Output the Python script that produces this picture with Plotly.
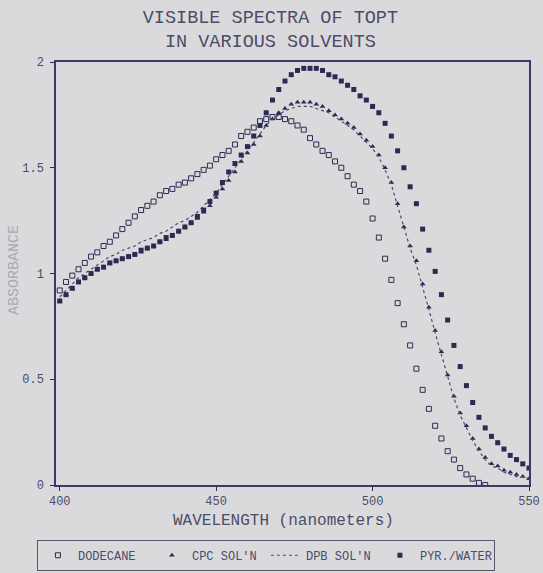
import plotly.graph_objects as go

wavelength = list(range(400, 552, 2))

dodecane = [0.92, 0.96, 0.99, 1.02, 1.05, 1.08, 1.10, 1.13, 1.15, 1.18,
            1.21, 1.24, 1.27, 1.30, 1.32, 1.34, 1.37, 1.39, 1.40, 1.42,
            1.43, 1.45, 1.47, 1.49, 1.51, 1.54, 1.56, 1.58, 1.61, 1.65,
            1.67, 1.69, 1.72, 1.73, 1.74, 1.74, 1.73, 1.72, 1.70, 1.68,
            1.64, 1.61, 1.58, 1.56, 1.53, 1.50, 1.46, 1.42, 1.39, 1.34,
            1.26, 1.17, 1.07, 0.97, 0.86, 0.76, 0.66, 0.55, 0.45, 0.36,
            0.28, 0.22, 0.16, 0.12, 0.08, 0.05, 0.03, 0.01, 0.00]

cpc = [0.87, 0.90, 0.93, 0.96, 0.98, 1.00, 1.02, 1.03, 1.05, 1.06,
       1.07, 1.08, 1.09, 1.10, 1.12, 1.13, 1.15, 1.16, 1.18, 1.20,
       1.22, 1.24, 1.26, 1.29, 1.32, 1.36, 1.40, 1.44, 1.48, 1.53,
       1.57, 1.61, 1.65, 1.70, 1.73, 1.76, 1.78, 1.80, 1.81, 1.81,
       1.81, 1.80, 1.79, 1.77, 1.75, 1.73, 1.71, 1.69, 1.66, 1.63,
       1.60, 1.56, 1.50, 1.43, 1.33, 1.22, 1.13, 1.06, 0.95, 0.84,
       0.73, 0.63, 0.52, 0.42, 0.34, 0.28, 0.22, 0.17, 0.13, 0.10,
       0.09, 0.07, 0.06, 0.05, 0.04, 0.03]

dpb = [0.89, 0.92, 0.95, 0.98, 1.00, 1.02, 1.04, 1.06, 1.08, 1.09,
       1.11, 1.12, 1.13, 1.15, 1.16, 1.17, 1.19, 1.20, 1.22, 1.24,
       1.25, 1.27, 1.29, 1.32, 1.35, 1.38, 1.42, 1.46, 1.50, 1.54,
       1.58, 1.62, 1.66, 1.70, 1.73, 1.75, 1.77, 1.78, 1.79, 1.79,
       1.79, 1.78, 1.77, 1.76, 1.74, 1.72, 1.70, 1.68, 1.65, 1.62,
       1.59, 1.55, 1.49, 1.42, 1.32, 1.21, 1.12, 1.04, 0.94, 0.83,
       0.72, 0.62, 0.51, 0.41, 0.33, 0.27, 0.21, 0.16, 0.12, 0.09,
       0.08, 0.06, 0.05, 0.04, 0.04, 0.03]

pyr_water = [0.87, 0.90, 0.93, 0.96, 0.98, 1.00, 1.02, 1.03, 1.05, 1.06,
             1.07, 1.08, 1.09, 1.11, 1.12, 1.13, 1.15, 1.17, 1.18, 1.20,
             1.22, 1.24, 1.27, 1.30, 1.34, 1.38, 1.43, 1.48, 1.52, 1.56,
             1.60, 1.65, 1.70, 1.76, 1.82, 1.87, 1.91, 1.94, 1.96, 1.97,
             1.97, 1.97, 1.96, 1.94, 1.93, 1.91, 1.89, 1.87, 1.84, 1.82,
             1.79, 1.76, 1.71, 1.65, 1.58, 1.50, 1.41, 1.33, 1.21, 1.11,
             1.01, 0.90, 0.78, 0.66, 0.56, 0.47, 0.39, 0.32, 0.27, 0.23,
             0.20, 0.17, 0.14, 0.12, 0.10, 0.08]

x_ticks = [400, 450, 500, 550]
y_ticks = [0, 0.5, 1, 1.5, 2]
y_tick_text = ["0", "0.5", "1", "1.5", "2"]

INK = "#2b2b52"
TEXT = "#4c4c68"
BG = "#dadadd"
FONT = "Liberation Mono, Courier New, monospace"

fig = go.Figure()
fig.add_trace(go.Scatter(
    x=wavelength[:len(dodecane)], y=dodecane, mode="markers", name="DODECANE",
    marker=dict(symbol="square-open", size=5, color=INK, line=dict(width=1, color=INK))))
fig.add_trace(go.Scatter(
    x=wavelength[:len(cpc)], y=cpc, mode="markers", name="CPC SOL'N",
    marker=dict(symbol="triangle-up", size=5, color=INK)))
fig.add_trace(go.Scatter(
    x=wavelength[:len(dpb)], y=dpb, mode="lines", name="DPB SOL'N",
    line=dict(color="#4a4a70", width=1.2, dash="dot")))
fig.add_trace(go.Scatter(
    x=wavelength[:len(pyr_water)], y=pyr_water, mode="markers", name="PYR./WATER",
    marker=dict(symbol="square", size=5, color=INK)))

fig.update_layout(
    width=543, height=573,
    paper_bgcolor=BG, plot_bgcolor=BG,
    margin=dict(l=56, r=14, t=62, b=88),
    font=dict(family=FONT, color=TEXT, size=12),
    title=dict(text="VISIBLE SPECTRA OF TOPT<br>IN VARIOUS SOLVENTS",
               x=0.498, xanchor="center", y=0.960, yanchor="middle",
               automargin=False,
               font=dict(family=FONT, size=18.5, color=TEXT)),
    showlegend=True,
    legend=dict(orientation="h", xref="container", yref="container",
                x=0.068, xanchor="left", y=0.031, yanchor="middle",
                bgcolor="rgba(0,0,0,0)", bordercolor="#55556e", borderwidth=1,
                font=dict(family=FONT, size=12, color=TEXT),
                entrywidth=69, entrywidthmode="pixels", itemwidth=30,
                tracegroupgap=0),
    annotations=[
        dict(text="WAVELENGTH (nanometers)", xref="paper", yref="paper",
             x=0.48, y=-0.085, xanchor="center", yanchor="middle",
             showarrow=False, font=dict(family=FONT, size=16, color=TEXT)),
        dict(text="ABSORBANCE", xref="paper", yref="paper", textangle=-90,
             x=-0.089, y=0.508, xanchor="center", yanchor="middle",
             showarrow=False, font=dict(family=FONT, size=15, color="#a9a9b4")),
    ],
)
fig.update_xaxes(
    range=[398.8, 550], tickvals=x_ticks, ticks="outside", ticklen=4,
    tickcolor=INK, showline=True, linecolor="#3a3a6a", linewidth=1.5,
    mirror=True, showgrid=False, zeroline=False, ticklabelstandoff=0,
    automargin=False,
    tickfont=dict(family=FONT, size=12, color=TEXT))
fig.update_yaxes(
    range=[0, 2.0], tickvals=y_ticks, ticktext=y_tick_text, ticks="outside",
    ticklen=4, tickcolor=INK, showline=True, linecolor="#3a3a6a", linewidth=1.5,
    mirror=True, showgrid=False, zeroline=False, ticklabelstandoff=4,
    automargin=False,
    tickfont=dict(family=FONT, size=12, color=TEXT))

fig.write_html("out.html", config={"displayModeBar": False},
               post_script="document.body.style.margin='0';document.body.style.background='%s';" % BG)
